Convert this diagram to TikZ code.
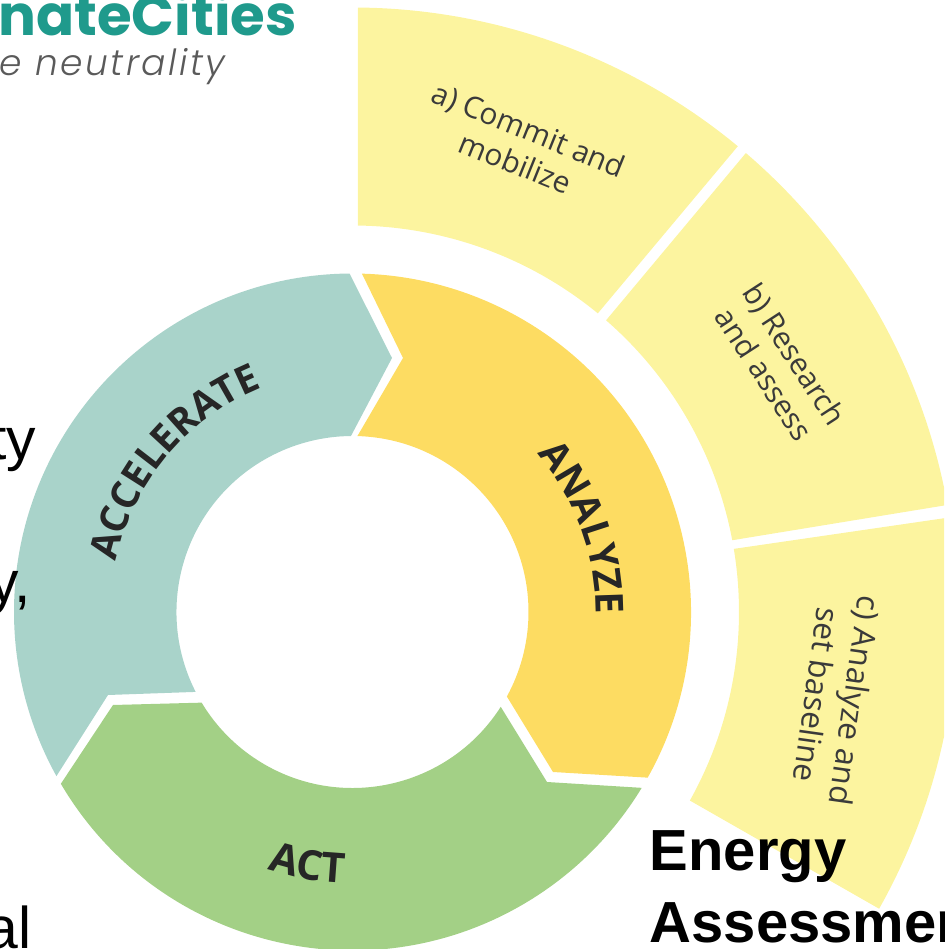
\documentclass[tikz,border=0pt]{standalone}
\usepackage{fontspec}
\setmainfont{Liberation Sans}
\newfontfamily\labelfont{Open Sans}
\newfontfamily\logofont{Poppins}
\newfontfamily\tagfont[LetterSpace=7]{Poppins Light}
\usetikzlibrary{decorations.text}

\definecolor{accelfill}{HTML}{A9D3CA}
\definecolor{analyzefill}{HTML}{FDDC62}
\definecolor{actfill}{HTML}{A3D086}
\definecolor{stepfill}{HTML}{FCF49F}
\definecolor{logoteal}{HTML}{1F9A8C}
\definecolor{taggray}{HTML}{5A5A5A}
\definecolor{labelgray}{HTML}{3A3A3A}

\tikzset{
  steplabel/.style={font=\labelfont\fontsize{17}{20.5}\selectfont,color=labelgray,align=center,inner sep=0},
  sidetext/.style={font=\fontsize{33.5}{40}\selectfont,anchor=base east,inner sep=0},
  ringtext/.style 2 args={decorate,decoration={text along path,text align=center,
    text={|\labelfont\bfseries\fontsize{#1}{26}\selectfont\color{black!85}|#2}}}
}

\begin{document}
\begin{tikzpicture}[x=0.02cm,y=0.02cm]
    \useasboundingbox (-352.5,-337) rectangle (591.5,612);
    \clip (-352.5,-337) rectangle (591.5,612);

    % outer steps
    \fill [stepfill] (89.5:604.5) arc[start angle=89.5,end angle=50.4,radius=604.5]
        -- (50.6:386.5) arc[start angle=50.6,end angle=89.2,radius=386.5] -- cycle;
    \fill [stepfill] (49.4:604.5) arc[start angle=49.4,end angle=10.2,radius=604.5]
        -- (10.7:386.5) arc[start angle=10.7,end angle=49,radius=386.5] -- cycle;
    \fill [stepfill] (9:604.5) arc[start angle=9,end angle=-29.4,radius=604.5]
        -- (-29.2:386.5) arc[start angle=-29.2,end angle=9.4,radius=386.5] -- cycle;

    % inner ring
    \fill [accelfill] (90.5:338.5) arc[start angle=90.5,end angle=209,radius=338.5]
        -- (-244.5,-83) -- (207:176) arc[start angle=207,end angle=90.5,radius=176]
        -- (39.5,254) -- cycle;
    \fill [analyzefill] (88.4:338.5) -- (50.5,254) -- (88.4:176)
        arc[start angle=88.4,end angle=-28.7,radius=176]
        -- (200.5,-160) -- (-29.3:338.5) arc[start angle=-29.3,end angle=88.4,radius=338.5];
    \fill [actfill] (210.5:338.5) arc[start angle=210.5,end angle=328.7,radius=338.5]
        -- (194.5,-170) -- (-32.6:176) arc[start angle=327.4,end angle=211,radius=176]
        -- (-239.5,-93) -- cycle;

    % ring labels
    \path [ringtext={22}{ACCELERATE}] (180:242) arc[start angle=180,end angle=100,radius=242];
    \path [ringtext={22}{ANALYZE}] (60:243) arc[start angle=60,end angle=-20,radius=243];
    \path [ringtext={23.5}{ACT}] (220:271) arc[start angle=220,end angle=300,radius=271];

    % step labels
    \node [steplabel,rotate=-22] (commit) at (169.5,466) {a) Commit and\\mobilize};
    \node [steplabel,rotate=-57] (research) at (427,248) {b) Research\\and assess};
    \node [steplabel,rotate=-98,font=\labelfont\fontsize{18}{22}\selectfont] (baseline) at (484,-86) {c) Analyze and\\set baseline};

    % logo
    \node [anchor=base east,inner sep=0,color=logoteal,font=\logofont\bfseries\fontsize{32}{38}\selectfont] (logo) at (-55.5,576) {nateCities};
    \node [anchor=base east,inner sep=0,color=taggray,font=\tagfont\itshape\fontsize{20.5}{24}\selectfont] (tagline) at (-127,536) {e neutrality};

    % cut off slide text
    \node [sidetext] (textA) at (-316,152) {ty};
    \node [sidetext] (textB) at (-321,9) {y,};
    \node [sidetext] (textC) at (-321,-336) {al};
    \node [anchor=north west,inner sep=0,align=left,font=\bfseries\fontsize{33}{41.4}\selectfont] (energy) at (297,-218) {Energy\\Assessmen};
\end{tikzpicture}
\end{document}
